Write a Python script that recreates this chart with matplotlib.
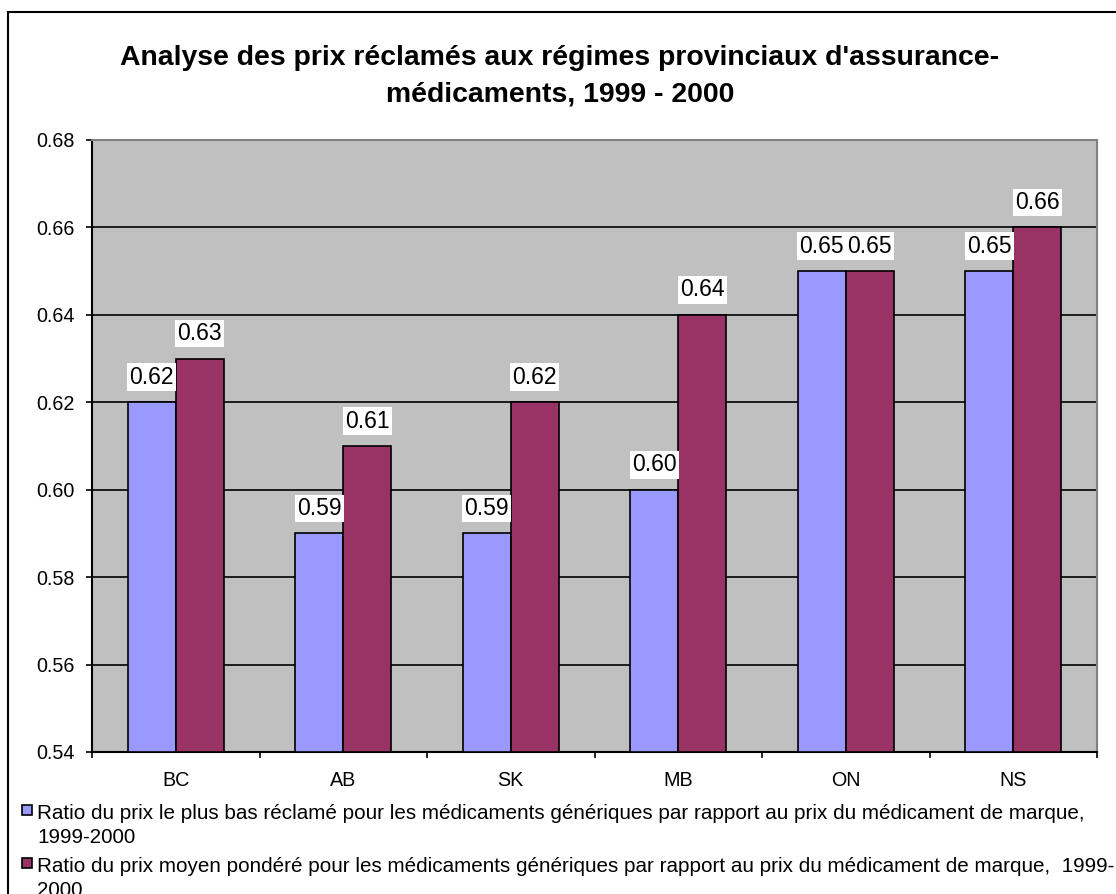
import matplotlib
matplotlib.use("Agg")
import matplotlib.pyplot as plt
import numpy as np
from matplotlib.patches import Rectangle

plt.rcParams['font.family'] = ['Liberation Sans', 'DejaVu Sans']

# Data
provinces = ["BC", "AB", "SK", "MB", "ON", "NS"]
lowest_ratio = [0.62, 0.59, 0.59, 0.60, 0.65, 0.65]
weighted_ratio = [0.63, 0.61, 0.62, 0.64, 0.65, 0.66]
y_ticks = [0.54, 0.56, 0.58, 0.60, 0.62, 0.64, 0.66, 0.68]

title_lines = ["Analyse des prix réclamés aux régimes provinciaux d'assurance-",
               "médicaments, 1999 - 2000"]
legend_lines = [
    ["Ratio du prix le plus bas réclamé pour les médicaments génériques par rapport au prix du médicament de marque,",
     "1999-2000"],
    ["Ratio du prix moyen pondéré pour les médicaments génériques par rapport au prix du médicament de marque,  1999-",
     "2000"],
]
colors = ["#9999FF", "#993366"]

W, H = 1116, 894
fig = plt.figure(figsize=(W / 100, H / 100), dpi=100)

def fy(py):
    # pixel row from top -> figure fraction
    return 1 - py / H

# outer chart border (cropped on right/bottom)
fig.patches.append(Rectangle((8 / W, -0.05), 1.2, fy(12) + 0.05, transform=fig.transFigure,
                             fill=False, edgecolor="black", linewidth=1.5))

ax = fig.add_axes([92 / W, fy(752), (1097 - 92) / W, (752 - 140) / H])
ax.set_facecolor("#C0C0C0")

x = np.arange(len(provinces))
bw = 0.2857
series = [lowest_ratio, weighted_ratio]
for i, vals in enumerate(series):
    pos = x + (i - 0.5) * bw
    ax.bar(pos, np.array(vals) - 0.54, bottom=0.54, width=bw, color=colors[i],
           edgecolor="black", linewidth=1.2, zorder=3)
    for px, v in zip(pos, vals):
        ax.annotate(f"{v:.2f}", (px, v), xytext=(0, 25), textcoords="offset pixels",
                    ha="center", va="center", fontsize=16.5, zorder=5,
                    bbox=dict(boxstyle="square,pad=0.1", fc="white", ec="none"))

ax.set_xlim(-0.5, len(provinces) - 0.5)
ax.set_ylim(0.54, 0.68)
ax.set_yticks(y_ticks)
ax.set_yticklabels([f"{t:.2f}" for t in y_ticks], fontsize=14.2)
ax.set_xticks(np.arange(len(provinces) + 1) - 0.5)
ax.set_xticklabels([])
ax.set_xticks(x, minor=True)
ax.set_xticklabels(provinces, minor=True, fontsize=14.2)
ax.tick_params(axis="x", which="minor", length=0, pad=14)
ax.tick_params(axis="x", which="major", length=4.5, direction="out", width=1.2)
ax.tick_params(axis="y", length=4.5, direction="out", width=1.2, pad=8)
ax.yaxis.grid(True, color="black", linewidth=1.2, zorder=1)
ax.set_axisbelow(True)
for s in ["top", "right"]:
    ax.spines[s].set_color("#808080")
    ax.spines[s].set_linewidth(1.5)
for s in ["left", "bottom"]:
    ax.spines[s].set_color("black")
    ax.spines[s].set_linewidth(1.5)

# title, two lines placed on their baselines
for line, base in zip(title_lines, [65, 102]):
    fig.text(560 / W, fy(base), line, ha="center", va="baseline", fontsize=20.4,
             fontweight="bold")

# legend below the plot
for i, lines in enumerate(legend_lines):
    base = 819 + i * 53
    fig.patches.append(Rectangle((22 / W, fy(base - 4)), 10 / W, 10 / H, transform=fig.transFigure,
                                 facecolor=colors[i], edgecolor="black", linewidth=1.2))
    for j, line in enumerate(lines):
        fig.text(37 / W, fy(base + j * 24), line, ha="left", va="baseline", fontsize=14.9)

fig.savefig("out.png", dpi=100)
